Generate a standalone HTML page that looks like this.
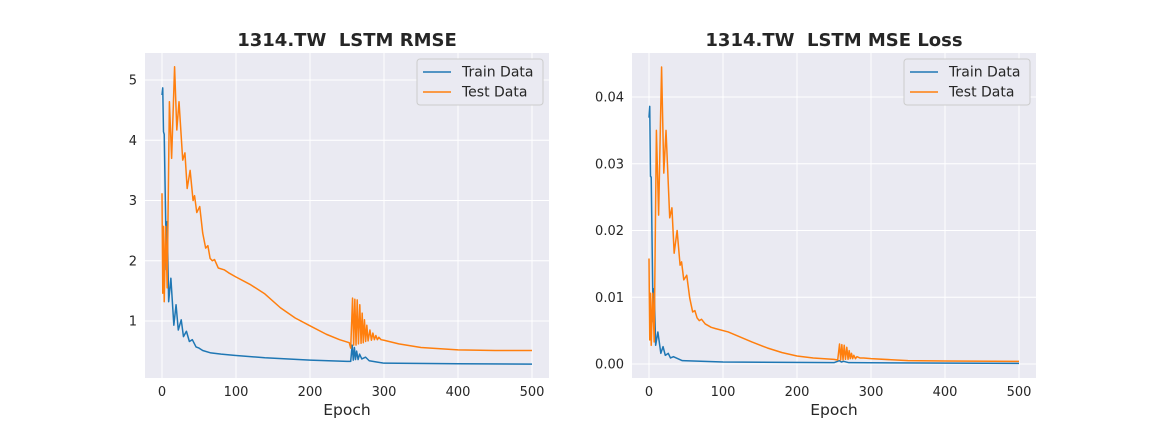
<!DOCTYPE html>
<html><head><meta charset="utf-8"><style>
body{margin:0;background:#fff;}
svg{display:block;font-family:"DejaVu Sans","Liberation Sans",sans-serif;}
text{white-space:pre;}
</style></head><body>
<svg id="chart" width="1152" height="432"></svg>
<script>
const xTicks=[0,100,200,300,400,500];
const rmseTicks=[1,2,3,4,5];
const mseTicks=[0,0.01,0.02,0.03,0.04];
const mseTickLabels=["0.00","0.01","0.02","0.03","0.04"];
const seriesNames=["Train Data","Test Data"];

const rmseTestEpochs=[0,1,2,3,5,7,10,13,17,20,23,28,31,34,38,42,44,47,51,55,59,62,65,68,71,76,84,90,100,120,139,160,180,200,222,240,253,255,257.5,259,260.6,262.2,263.8,265.5,267.3,269,270.5,272,273.6,275.2,276.8,278.5,281,283,285,287,289,291,293,296,300,320,350,400,450,500];
const rmseTestValues=[3.12,1.46,2.57,1.32,2.57,1.55,4.64,3.7,5.22,4.17,4.64,3.67,3.79,3.2,3.5,3.0,3.08,2.8,2.9,2.46,2.21,2.25,2.04,2.0,2.02,1.88,1.85,1.8,1.73,1.6,1.45,1.22,1.05,0.92,0.78,0.69,0.64,0.55,1.38,0.6,1.36,0.6,1.35,0.62,1.27,0.63,1.13,0.64,1.02,0.66,0.93,0.67,0.85,0.68,0.8,0.69,0.76,0.69,0.73,0.69,0.68,0.62,0.56,0.52,0.51,0.51];
const rmseTrainEpochs=[0,1,2,3,5,6,7,9,12,16,19,22,26,29,33,37,41,46,50,55,66,80,98,139,200,250,255,257,258.5,260,261.5,263,265,267,270,275,280,290,300,400,500];
const rmseTrainValues=[4.75,4.87,4.14,4.1,2.65,1.85,2.65,1.32,1.71,0.93,1.27,0.85,1.02,0.74,0.83,0.66,0.69,0.57,0.55,0.51,0.47,0.45,0.43,0.39,0.35,0.33,0.33,0.6,0.35,0.56,0.36,0.5,0.36,0.45,0.37,0.4,0.34,0.32,0.30,0.29,0.285];

const mseTestEpochs=[0,1,2,3,5,7,10,13,17,20,23,28,31,34,38,42,44,47,51,55,59,62,65,68,71,76,84,90,107,139,160,180,200,222,250,255,257.5,259,260.6,262.2,263.8,265.5,267.3,269,270.5,272,273.6,275.2,276.8,279,281,285,290,300,350,400,500];
const mseTestValues=[0.0158,0.0036,0.0106,0.0028,0.0106,0.0033,0.035,0.0223,0.0445,0.0286,0.035,0.0219,0.0234,0.0166,0.02,0.0148,0.0153,0.0126,0.0133,0.0099,0.0078,0.008,0.0069,0.0065,0.0067,0.006,0.0055,0.0053,0.0048,0.0033,0.0024,0.0017,0.0012,0.0009,0.0007,0.0006,0.003,0.0006,0.0029,0.0006,0.0028,0.0007,0.0025,0.0007,0.002,0.0008,0.0016,0.0008,0.0013,0.0008,0.0011,0.0009,0.0009,0.0008,0.0005,0.00045,0.0004];
const mseTrainEpochs=[0,1,2,3,5,6,7,9,12,16,19,22,26,29,33,45,100,250,257,260,263,270,500];
const mseTrainValues=[0.0369,0.0386,0.0281,0.028,0.0113,0.0063,0.0113,0.0028,0.0048,0.0016,0.0026,0.0013,0.0016,0.0009,0.0011,0.0005,0.0003,0.0002,0.0005,0.0003,0.0004,0.0002,0.0001];

const NS="http://www.w3.org/2000/svg";
const svg=document.getElementById('chart');
function mk(tag,attrs,parent){const e=document.createElementNS(NS,tag);for(const k in attrs)e.setAttribute(k,attrs[k]);(parent||svg).appendChild(e);return e;}
const colors=["#1f77b4","#ff7f0e"];

function panel(cfg){
  const g=mk('g',{});
  
  
  const X=v=>cfg.x0+(v-0)*cfg.kx;
  const Y=v=>cfg.y0-(v-cfg.yref)*cfg.ky;
  const bg=mk('rect',{x:cfg.l,y:53,width:404,height:325,fill:'#eaeaf2'},g);
  
  
  xTicks.forEach(t=>{
    const ln=mk('line',{x1:X(t),x2:X(t),y1:53,y2:378,stroke:'#fff','stroke-width':1},g);
    
    
    const tx=mk('text',{x:X(t),y:396,'text-anchor':'middle','font-size':13,fill:'#262626'},g);
    tx.textContent=t;
    
    
  });
  cfg.yTicks.forEach((t,i)=>{
    const ln=mk('line',{x1:cfg.l,x2:cfg.l+404,y1:Y(t),y2:Y(t),stroke:'#fff','stroke-width':1},g);
    
    
    const tx=mk('text',{x:cfg.l-8,y:Y(t)+4.5,'text-anchor':'end','font-size':13,fill:'#262626'},g);
    tx.textContent=cfg.yLabels[i];
    
    
  });
  const series=[[cfg.trainE,cfg.trainV],[cfg.testE,cfg.testV]];
  series.forEach((s,i)=>{
    const pts=s[0].map((e,j)=>X(e).toFixed(2)+','+Y(s[1][j]).toFixed(2)).join(' ');
    const pl=mk('polyline',{points:pts,fill:'none',stroke:colors[i],'stroke-width':1.5,'stroke-linejoin':'round'},g);
    
    
  });
  const tt=mk('text',{x:cfg.l+202,y:46,'text-anchor':'middle','font-size':18,'font-weight':'bold',fill:'#262626'},g);
  tt.textContent=cfg.title;
  
  
  const xl=mk('text',{x:cfg.l+202,y:415,'text-anchor':'middle','font-size':15.5,fill:'#262626'},g);
  xl.textContent='Epoch';
  
  
  const lg=mk('g',{},g);
  
  
  const lx=cfg.l+272;
  mk('rect',{x:lx,y:59,width:126,height:46,rx:3,fill:'#eaeaf2',stroke:'#ccc','stroke-width':1},lg);
  seriesNames.forEach((n,i)=>{
    const yy=72+i*20;
    mk('line',{x1:lx+6,x2:lx+34,y1:yy,y2:yy,stroke:colors[i],'stroke-width':1.5},lg);
    const t=mk('text',{x:lx+45,y:yy+4.5,'font-size':14,fill:'#262626'},lg);
    t.textContent=n;
    
    
  });
}
panel({name:'rmse-panel',title:'1314.TW  LSTM RMSE',l:145,x0:162,kx:0.74,y0:321,yref:1,ky:60.25,
  yTicks:rmseTicks,yLabels:rmseTicks.map(String),
  trainE:rmseTrainEpochs,trainV:rmseTrainValues,testE:rmseTestEpochs,testV:rmseTestValues});
panel({name:'mse-panel',title:'1314.TW  LSTM MSE Loss',l:632,x0:649,kx:0.74,y0:364,yref:0,ky:6675,
  yTicks:mseTicks,yLabels:mseTickLabels,
  trainE:mseTrainEpochs,trainV:mseTrainValues,testE:mseTestEpochs,testV:mseTestValues});
</script>
</body></html>
